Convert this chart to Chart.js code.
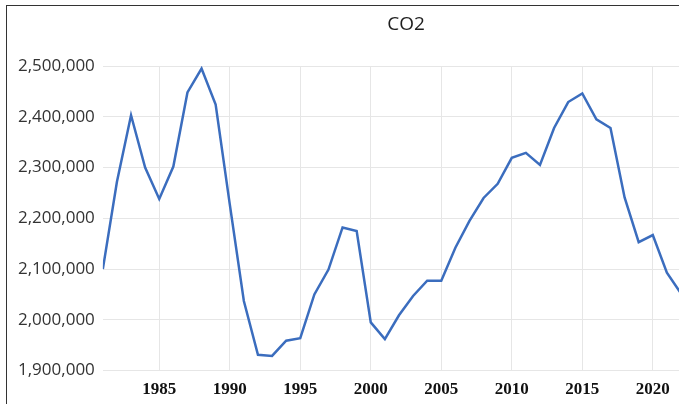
<!DOCTYPE html>
<html>
<head>
<meta charset="utf-8">
<script src="https://cdn.jsdelivr.net/npm/chart.js@4.4.1/dist/chart.umd.min.js"></script>
<style>
  html, body { margin: 0; padding: 0; width: 679px; height: 404px; overflow: hidden; background: #fff; }
  #frame { position: absolute; left: 6px; top: 5px; width: 689px; height: 403px;
           border-top: 1px solid #333; border-left: 1px solid #333; }
  canvas { display: block; }
</style>
</head>
<body>
<div id="frame"><canvas id="c" width="689" height="403" style="width:689px;height:403px"></canvas></div>
<script>
const chartTitle = "CO2";
const years = [1981,1982,1983,1984,1985,1986,1987,1988,1989,1990,
               1991,1992,1993,1994,1995,1996,1997,1998,1999,2000,
               2001,2002,2003,2004,2005,2006,2007,2008,2009,2010,
               2011,2012,2013,2014,2015,2016,2017,2018,2019,2020,
               2021,2022];
const co2 = [2100000,2272000,2403000,2300000,2238000,2302000,2448000,2495000,2424000,2228000,
             2037000,1931000,1929000,1959000,1964000,2050000,2099000,2182000,2175000,1995000,
             1962000,2009000,2047000,2077000,2077000,2142000,2195000,2240000,2268000,2319000,
             2329000,2305000,2378000,2429000,2446000,2395000,2378000,2241000,2153000,2167000,
             2093000,2052000];
const xTickYears = [1985,1990,1995,2000,2005,2010,2015,2020];
const yMin = 1900000, yMax = 2500000, yStep = 100000;
const xMin = 1981, xMax = 2022;

const points = years.map((y, i) => ({ x: y, y: co2[i] }));

const titlePlugin = {
  id: 'placedTitle',
  afterDraw(chart) {
    const ctx = chart.ctx;
    ctx.save();
    ctx.font = '19px "Open Sans"';
    ctx.fillStyle = '#1e1e1e';
    ctx.textAlign = 'center';
    ctx.textBaseline = 'middle';
    ctx.fillText(chartTitle, 399, 19);
    ctx.restore();
  }
};

new Chart(document.getElementById('c'), {
  type: 'line',
  data: {
    datasets: [{
      label: chartTitle,
      data: points,
      borderColor: '#3b6dbe',
      borderWidth: 2.5,
      pointRadius: 0,
      tension: 0,
      fill: false
    }]
  },
  options: {
    responsive: false,
    animation: false,
    devicePixelRatio: 1,
    layout: { padding: { top: 60, left: 3, right: 15, bottom: 0 } },
    plugins: { legend: { display: false }, title: { display: false }, tooltip: { enabled: false } },
    scales: {
      x: {
        type: 'linear',
        min: xMin, max: xMax,
        afterBuildTicks(scale) {
          scale.ticks = xTickYears.map(v => ({ value: v }));
        },
        ticks: {
          padding: 9,
          color: '#111',
          font: { family: '"Liberation Serif", "Times New Roman", serif', size: 17, weight: 'bold' },
          callback: v => String(v),
          maxRotation: 0,
          autoSkip: false
        },
        grid: { color: '#e6e6e6', lineWidth: 1, drawTicks: false },
        border: { display: false }
      },
      y: {
        min: yMin, max: yMax,
        ticks: {
          stepSize: yStep,
          padding: 8,
          color: '#333',
          font: { family: '"Open Sans", sans-serif', size: 17 },
          callback: v => Number(v).toLocaleString('en-US')
        },
        grid: { color: '#e6e6e6', lineWidth: 1, drawTicks: false },
        border: { display: false }
      }
    }
  },
  plugins: [titlePlugin]
});
</script>
</body>
</html>
